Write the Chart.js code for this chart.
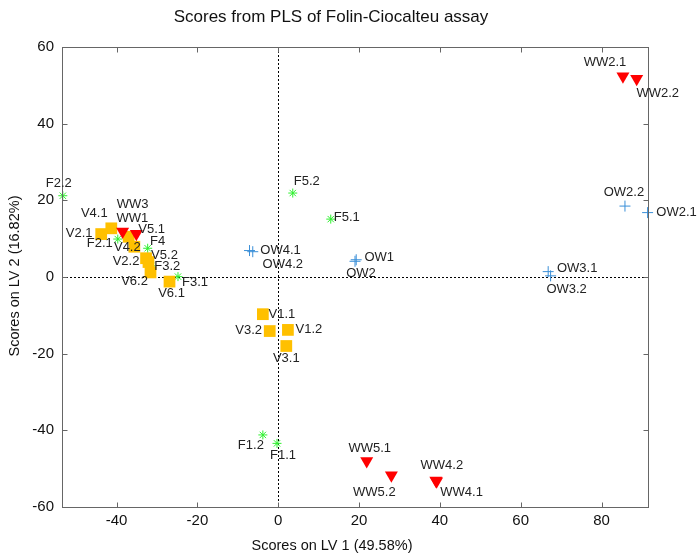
<!DOCTYPE html>
<html><head><meta charset="utf-8">
<script src="https://cdn.jsdelivr.net/npm/chart.js@4/dist/chart.umd.min.js"></script>
<style>html,body{margin:0;padding:0;background:#fff;}</style>
</head><body>
<canvas id="c" width="699" height="555"></canvas>
<script>
// ---- data ----
const wwNames = ['WW2.1','WW2.2','WW5.1','WW5.2','WW4.2','WW4.1','WW3','WW1'];
const wwX     = [85.3, 88.7, 21.9, 28.0, 39.0, 39.2, -38.5, -35.1];
const wwY     = [52.4, 51.7, -48.0, -51.7, -53.1, -53.3, 11.9, 11.3];

const vNames = ['V2.1','V4.1','V5.1','V4.2','V2.2','V5.2','V6.2','V6.1','V1.1','V3.2','V1.2','V3.1'];
const vX     = [-43.8, -41.3, -37.0, -35.6, -32.7, -32.1, -31.6, -26.9, -3.8, -2.1, 2.4, 2.0];
const vY     = [11.2, 12.7, 10.5, 7.9, 4.9, 3.9, 1.2, -1.2, -9.7, -14.1, -13.8, -18.0];

const fNames = ['F2.2','F2.1','F4','F3.2','F3.1','F5.2','F5.1','F1.2','F1.1'];
const fX     = [-53.3, -39.7, -32.3, -31.4, -24.8, 3.6, 13.0, -3.8, -0.3];
const fY     = [21.2, 9.9, 7.5, 2.9, 0.1, 21.9, 15.1, -41.2, -43.4];

const owNames = ['OW4.1','OW4.2','OW1','OW2','OW2.2','OW2.1','OW3.1','OW3.2'];
const owX     = [-7.1, -6.3, 19.3, 19.0, 85.8, 91.4, 66.8, 67.4];
const owY     = [6.9, 6.6, 4.5, 4.1, 18.5, 16.8, 1.4, 0.3];

const xTicks = [-40, -20, 0, 20, 40, 60, 80];
const yTicks = [-60, -40, -20, 0, 20, 40, 60];

const titleText  = 'Scores from PLS of Folin-Ciocalteu assay';
const xAxisTitle = 'Scores on LV 1 (49.58%)';
const yAxisTitle = 'Scores on LV 2 (16.82%)';

// ---- label placement (pixel offsets of label centre from its marker) ----
const labelOffsets = {
  'WW2.1':[-18,-14],'WW2.2':[21,15],'WW5.1':[3,-13],'WW5.2':[-17,17],'WW4.2':[6,-15],'WW4.1':[25,11],
  'WW3':[10,-27],'WW1':[-4,-15],
  'V2.1':[-22,-1],'V4.1':[-17,-15],'V5.1':[23,-7],'V4.2':[-7,1],'V2.2':[-20,3],'V5.2':[16,-7],
  'V6.2':[-16,9],'V6.1':[2,12],'V1.1':[19,0],'V3.2':[-21,-1],'V1.2':[21,0],'V3.1':[0,12],
  'F2.2':[-4,-12],'F2.1':[-18,4],'F4':[10,-7],'F3.2':[16,1],'F3.1':[17,6],'F5.2':[14,-12],
  'F5.1':[16,-2],'F1.2':[-12,10],'F1.1':[6,12],
  'OW4.1':[31,0],'OW4.2':[30,13],'OW1':[23,-2],'OW2':[6,12],'OW2.2':[-1,-14],'OW2.1':[29,0],
  'OW3.1':[29,-3],'OW3.2':[16,14]
};

const FONT = "'Liberation Sans', Arial, sans-serif";
const pts = (xs, ys, names) => xs.map((x, i) => ({x: x, y: ys[i], name: names[i]}));

const framePlugin = {
  id: 'frame',
  beforeDatasetsDraw(chart) {
    const {ctx, chartArea: a, scales: {x, y}} = chart;
    ctx.save();
    ctx.strokeStyle = '#000';
    ctx.lineWidth = 1;
    ctx.setLineDash([2, 2]);
    const x0 = Math.round(x.getPixelForValue(0)) + 0.5;
    const y0 = Math.round(y.getPixelForValue(0)) + 0.5;
    ctx.beginPath();
    ctx.moveTo(x0, a.top); ctx.lineTo(x0, a.bottom);
    ctx.moveTo(a.left, y0); ctx.lineTo(a.right, y0);
    ctx.stroke();
    ctx.restore();
  },
  afterDatasetsDraw(chart) {
    const {ctx, chartArea: a, scales: {x, y}} = chart;
    ctx.save();
    ctx.strokeStyle = '#666';
    ctx.lineWidth = 1;
    ctx.setLineDash([]);
    const L = Math.round(a.left) + 0.5, R = Math.round(a.right) + 0.5;
    const T = Math.round(a.top) + 0.5, B = Math.round(a.bottom) + 0.5;
    ctx.strokeRect(L, T, R - L, B - T);
    ctx.beginPath();
    const tl = 5;
    xTicks.forEach(v => {
      const px = Math.round(x.getPixelForValue(v)) + 0.5;
      ctx.moveTo(px, B); ctx.lineTo(px, B - tl);
      ctx.moveTo(px, T); ctx.lineTo(px, T + tl);
    });
    yTicks.forEach(v => {
      const py = Math.round(y.getPixelForValue(v)) + 0.5;
      ctx.moveTo(L, py); ctx.lineTo(L + tl, py);
      ctx.moveTo(R, py); ctx.lineTo(R - tl, py);
    });
    ctx.stroke();
    // point labels
    ctx.fillStyle = '#222';
    ctx.font = '13px ' + FONT;
    ctx.textAlign = 'center';
    ctx.textBaseline = 'middle';
    chart.data.datasets.forEach((ds, di) => {
      const meta = chart.getDatasetMeta(di);
      meta.data.forEach((el, i) => {
        const nm = ds.data[i].name;
        const off = labelOffsets[nm] || [0, -12];
        ctx.fillText(nm, el.x + off[0], el.y + off[1]);
      });
    });
    // titles
    ctx.fillStyle = '#111';
    ctx.font = '17px ' + FONT;
    ctx.fillText(titleText, 331, 17);
    ctx.font = '14.5px ' + FONT;
    ctx.fillText(xAxisTitle, 332, 546);
    ctx.translate(15, 276);
    ctx.rotate(-Math.PI / 2);
    ctx.fillText(yAxisTitle, 0, 0);
    ctx.restore();
  }
};

new Chart(document.getElementById('c'), {
  type: 'scatter',
  data: {
    datasets: [
      {label: 'WW', data: pts(wwX, wwY, wwNames), pointStyle: 'triangle', rotation: 180, clip: false,
       pointRadius: 7.5, backgroundColor: '#ff0000', borderColor: '#ff0000', borderWidth: 0},
      {label: 'V', data: pts(vX, vY, vNames), pointStyle: 'rect', clip: false,
       pointRadius: 8.3, backgroundColor: '#ffc000', borderColor: '#ffc000', borderWidth: 0},
      {label: 'F', data: pts(fX, fY, fNames), pointStyle: 'star', clip: false,
       pointRadius: 4.5, backgroundColor: '#2ef02e', borderColor: '#2ef02e', borderWidth: 1},
      {label: 'OW', data: pts(owX, owY, owNames), pointStyle: 'cross', clip: false,
       pointRadius: 5.5, backgroundColor: '#3a8fd8', borderColor: '#3a8fd8', borderWidth: 1}
    ]
  },
  options: {
    responsive: false,
    animation: false,
    events: [],
    layout: {padding: {left: 0, right: 51, top: 47, bottom: 0}},
    plugins: {
      legend: {display: false},
      tooltip: {enabled: false},
      title: {display: false}
    },
    scales: {
      x: {
        type: 'linear', min: -53.5, max: 91.5,
        afterBuildTicks: s => { s.ticks = xTicks.map(v => ({value: v})); },
        afterFit: s => { s.height = 48; },
        grid: {display: false, drawTicks: false},
        border: {display: false},
        ticks: {color: '#111', font: {size: 15, family: FONT}, padding: 5, maxRotation: 0},
        title: {display: false}
      },
      y: {
        type: 'linear', min: -60, max: 60,
        afterBuildTicks: s => { s.ticks = yTicks.map(v => ({value: v})); },
        afterFit: s => { s.width = 62; },
        grid: {display: false, drawTicks: false},
        border: {display: false},
        ticks: {color: '#111', font: {size: 15, family: FONT}, padding: 8},
        title: {display: false}
      }
    }
  },
  plugins: [framePlugin]
});
</script>
</body></html>
